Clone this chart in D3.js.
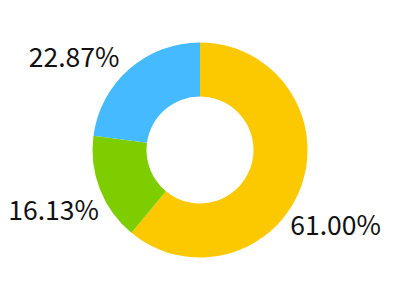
<!DOCTYPE html>
<html>
<head>
<meta charset="utf-8">
<script src="https://cdn.jsdelivr.net/npm/d3@7"></script>
<style>
  html, body { margin: 0; padding: 0; background: #fff; }
  svg { display: block; }
</style>
</head>
<body>
<div id="chart"></div>
<script>
// donut, three slices, labels outside

const names  = ["A", "B", "C"];
const values = [61.00, 16.13, 22.87];
const labels = ["61.00%", "16.13%", "22.87%"];
const colors = ["#fcc800", "#7ecd00", "#45baff"];

const W = 400, H = 300;
const cx = 200, cy = 150;
const outerR = 107.5, innerR = 53.5;

// nudges so labels sit where the original layout put them (index aligned)
const labelNudge = [[-25, 34], [13, 16], [0, 0]];

const svg = d3.select("#chart").append("svg")
  .attr("width", W)
  .attr("height", H);

const g = svg.append("g").attr("transform", `translate(${cx},${cy})`);

const pie = d3.pie().sort(null).value(d => d);
const arcs = pie(values);

const arc = d3.arc().innerRadius(innerR).outerRadius(outerR);

g.selectAll("path.slice")
  .data(arcs)
  .join("path")
  .attr("class", "slice")
  .attr("d", arc)
  .attr("fill", (d, i) => colors[i]);

const labelR = outerR + 15;

g.selectAll("text.lbl")
  .data(arcs)
  .join("text")
  .attr("class", "lbl")
  .attr("x", (d, i) => {
    const a = (d.startAngle + d.endAngle) / 2;
    return Math.sin(a) * labelR + labelNudge[i][0];
  })
  .attr("y", (d, i) => {
    const a = (d.startAngle + d.endAngle) / 2;
    return -Math.cos(a) * labelR + labelNudge[i][1];
  })
  .attr("dy", "0.36em")
  .attr("text-anchor", d => Math.sin((d.startAngle + d.endAngle) / 2) < 0 ? "end" : "start")
  .attr("font-family", "'Noto Sans CJK SC', 'Noto Sans', sans-serif")
  .attr("font-size", 26.5)
  .attr("fill", "#111")
  .text((d, i) => labels[i]);
</script>
</body>
</html>
